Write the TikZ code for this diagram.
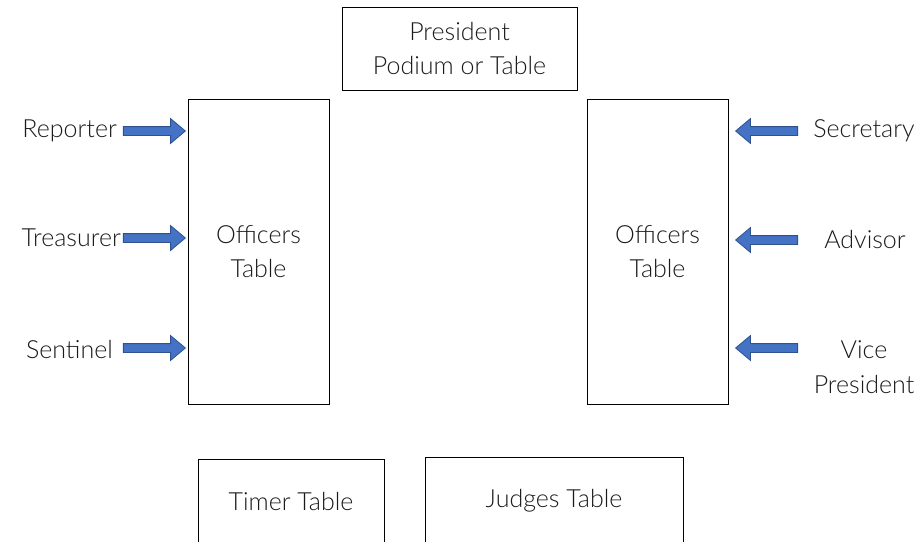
\documentclass[tikz,border=0pt]{standalone}
\usepackage{fontspec}
\setmainfont{Lato}[UprightFont=* Light]
\usetikzlibrary{shapes.arrows, positioning}
\definecolor{arrowBlue}{HTML}{4472C4}
\definecolor{arrowEdge}{HTML}{2F528F}
\definecolor{inkGray}{HTML}{1A1A1A}

\tikzset{
  tablebox/.style={draw=black, line width=0.9pt, align=center, inner sep=0pt,
    font=\fontsize{25}{34}\selectfont, text=inkGray},
  blockarrow/.style={single arrow, fill=arrowBlue, draw=arrowEdge, line width=0.8pt,
    inner xsep=0pt, inner ysep=4pt, single arrow head extend=8pt,
    single arrow tip angle=80, minimum height=62pt},
  rolelabel/.style={align=center, font=\fontsize{25}{35}\selectfont, text=inkGray, inner sep=0pt}
}

\begin{document}
\begin{tikzpicture}[x=1pt,y=-1pt]
  \useasboundingbox (0,0) rectangle (923,541);
  \clip (0,0) rectangle (923,541);
  % --- tables ---
  \node[tablebox, minimum width=235pt, minimum height=83pt] (podium) at (459.5,48.5)
    {President\\Podium or Table};
  \node[tablebox, minimum width=141pt, minimum height=305pt] (leftTable) at (258.5,251.5)
    {Officers\\Table};
  \node[tablebox, minimum width=141pt, minimum height=305pt] (rightTable) at (657.5,251.5)
    {Officers\\Table};
  \node[tablebox, minimum width=186pt, minimum height=110pt] (timer) at (291,514)
    {\raisebox{26pt}{Timer Table}};
  \node[tablebox, minimum width=258pt, minimum height=110pt] (judges) at (554,512)
    {\raisebox{28pt}{Judges Table}};
  % --- left officers ---
  \node[blockarrow, anchor=tip] (arrowReporter) at (186,131) {};
  \node[blockarrow, anchor=tip] (arrowTreasurer) at (186,238) {};
  \node[blockarrow, anchor=tip] (arrowSentinel) at (186,348) {};
  \node[rolelabel, anchor=east] (reporter) at (117,131) {Reporter};
  \node[rolelabel, anchor=east] (treasurer) at (121,238) {Treasurer};
  \node[rolelabel, anchor=east] (sentinel) at (113,350) {Sentinel};
  % --- right officers ---
  \node[blockarrow, shape border rotate=180, anchor=tip] (arrowSecretary) at (735,131) {};
  \node[blockarrow, shape border rotate=180, anchor=tip] (arrowAdvisor) at (735,240) {};
  \node[blockarrow, shape border rotate=180, anchor=tip] (arrowVice) at (735,348) {};
  \node[rolelabel] (secretary) at (864,131) {Secretary};
  \node[rolelabel] (advisor) at (865,240) {Advisor};
  \node[rolelabel] (vicePres) at (864,367) {Vice\\President};
\end{tikzpicture}
\end{document}
